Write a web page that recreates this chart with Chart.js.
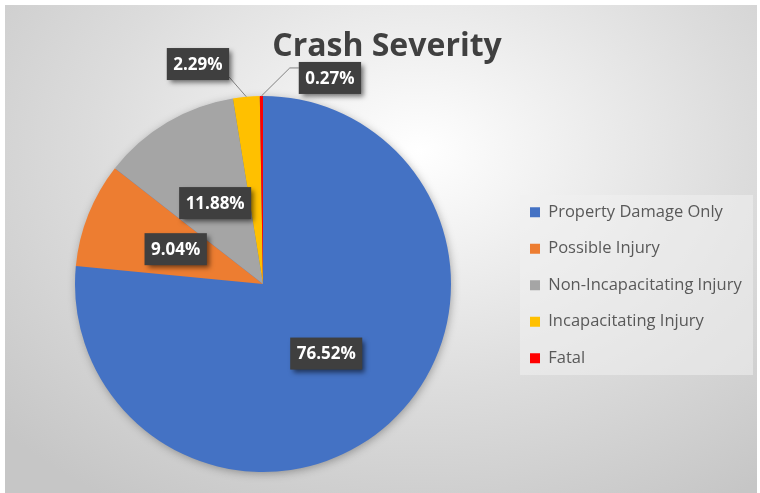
<!DOCTYPE html>
<html><head><meta charset="utf-8">
<script src="https://cdn.jsdelivr.net/npm/chart.js@4.4.1/dist/chart.umd.min.js"></script>
<style>
html,body{margin:0;padding:0;background:#fff;overflow:hidden;}
#bg{position:absolute;left:5px;top:5px;width:752px;height:488px;
 background:radial-gradient(ellipse 75% 85% at 55% 30%, #ffffff 0%, #f4f4f4 18%, #dcdcdc 58%, #c6c6c6 100%);}
#c{position:absolute;left:0;top:0;}
</style></head><body>
<div id="bg"></div>
<canvas id="c" width="760" height="493"></canvas>
<script>
// ---- data ----
const categories = ['Property Damage Only', 'Possible Injury', 'Non-Incapacitating Injury', 'Incapacitating Injury', 'Fatal'];
const shares = [76.52, 9.04, 11.88, 2.29, 0.27];
const sliceColors = ['#4472C4', '#ED7D31', '#A5A5A5', '#FFC000', '#FF0000'];
const chartTitle = 'Crash Severity';
const labelText = shares.map(v => v.toFixed(2) + '%');

// ---- layout (not data) ----
const PIE = {cx: 263, cy: 284, r: 188};
const LEGEND_BG = {left: 520, top: 195, right: 753, bottom: 375};
const LEGEND_POS = {left: 510, top: 184};
const TITLE_POS = {left: 14, right: 760, middle: 46.5};
// callout label placement in pie-radius units from the pie centre (null = inside at half radius)
const callouts = [null, null, null, {fx: -0.346, fy: -1.17, leader: 'corner'}, {fx: 0.356, fy: -1.096, leader: 'elbow'}];

const layoutPlugin = {
  id: 'layoutPlugin',
  afterLayout(chart) {
    chart.chartArea = {left: PIE.cx - PIE.r, top: PIE.cy - PIE.r, right: PIE.cx + PIE.r, bottom: PIE.cy + PIE.r, width: 2 * PIE.r, height: 2 * PIE.r};
    const lg = chart.legend;
    const w = lg.width;
    lg.left = LEGEND_POS.left; lg.right = lg.left + w;
    lg.top = LEGEND_POS.top; lg.bottom = 493; lg.height = lg.bottom - lg.top;
    const t = chart.titleBlock;
    const lh = Chart.helpers.toFont(t.options.font).lineHeight;
    t.left = TITLE_POS.left; t.right = TITLE_POS.right; t.width = t.right - t.left;
    t.top = TITLE_POS.middle - lh / 2; t.bottom = t.top + lh; t.height = lh;
  },
  beforeDraw(chart) {
    const ctx = chart.ctx;
    ctx.save();
    ctx.fillStyle = 'rgba(240,240,240,0.55)';
    ctx.fillRect(LEGEND_BG.left, LEGEND_BG.top, LEGEND_BG.right - LEGEND_BG.left, LEGEND_BG.bottom - LEGEND_BG.top);
    ctx.restore();
  },
  beforeDatasetsDraw(chart) {
    const meta = chart.getDatasetMeta(0);
    const arc = meta.data[0];
    if (!arc) return;
    const ctx = chart.ctx;
    ctx.save();
    ctx.shadowColor = 'rgba(0,0,0,0.35)';
    ctx.shadowBlur = 10;
    ctx.shadowOffsetX = 1;
    ctx.shadowOffsetY = 2;
    ctx.fillStyle = sliceColors[0];
    ctx.beginPath();
    ctx.arc(arc.x, arc.y, arc.outerRadius - 1, 0, Math.PI * 2);
    ctx.fill();
    ctx.restore();
  },
  afterDatasetsDraw(chart) {
    const ctx = chart.ctx;
    const meta = chart.getDatasetMeta(0);
    ctx.save();
    ctx.font = 'bold 17px "Open Sans"';
    meta.data.forEach((arc, i) => {
      const p = arc.getProps(['x', 'y', 'startAngle', 'endAngle', 'outerRadius'], true);
      const mid = (p.startAngle + p.endAngle) / 2;
      const txt = labelText[i];
      const tw = ctx.measureText(txt).width;
      const bw = tw + 13, bh = 32;
      const co = callouts[i];
      let lx, ly;
      if (co) { lx = p.x + co.fx * p.outerRadius; ly = p.y + co.fy * p.outerRadius; }
      else { lx = p.x + Math.cos(mid) * p.outerRadius * 0.5; ly = p.y + Math.sin(mid) * p.outerRadius * 0.5; }
      const bx = lx - bw / 2, by = ly - bh / 2;
      if (co) {
        const px = p.x + Math.cos(mid) * p.outerRadius, py = p.y + Math.sin(mid) * p.outerRadius;
        ctx.strokeStyle = '#808080';
        ctx.lineWidth = 1;
        ctx.beginPath();
        ctx.moveTo(px, py);
        if (co.leader === 'corner') {
          ctx.lineTo(bx + bw, by + bh - 3);
        } else {
          ctx.lineTo(bx - 9, by + 6);
          ctx.lineTo(bx, by + 6);
        }
        ctx.stroke();
      }
      ctx.save();
      ctx.shadowColor = 'rgba(0,0,0,0.55)';
      ctx.shadowBlur = 5;
      ctx.shadowOffsetX = 3;
      ctx.shadowOffsetY = 3;
      ctx.fillStyle = '#3f3f3f';
      ctx.fillRect(bx, by, bw, bh);
      ctx.restore();
      ctx.fillStyle = '#ffffff';
      ctx.textAlign = 'center';
      ctx.textBaseline = 'middle';
      ctx.fillText(txt, lx, ly + 1);
    });
    ctx.restore();
  }
};

new Chart(document.getElementById('c'), {
  type: 'pie',
  data: {
    labels: categories,
    datasets: [{data: shares, backgroundColor: sliceColors, borderWidth: 0, hoverOffset: 0}]
  },
  options: {
    responsive: false,
    animation: false,
    devicePixelRatio: 1,
    events: [],
    plugins: {
      title: {display: true, text: chartTitle, color: '#404040', padding: 0,
        font: {family: '"Open Sans"', weight: 'bold', size: 32}},
      legend: {display: true, position: 'right', align: 'start',
        labels: {boxWidth: 10, boxHeight: 10, padding: 20, color: '#595959',
          font: {family: '"Open Sans"', size: 16.5}}},
      tooltip: {enabled: false}
    }
  },
  plugins: [layoutPlugin]
});
</script>
</body></html>
